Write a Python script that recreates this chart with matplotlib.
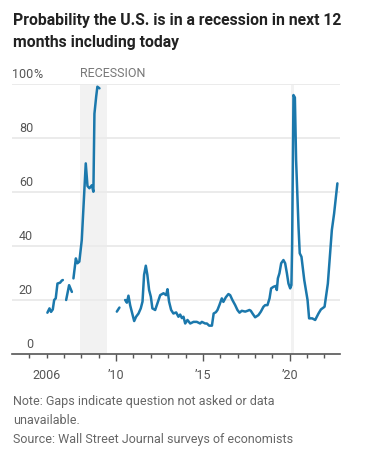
import numpy as np
import matplotlib
matplotlib.use("Agg")
import matplotlib.pyplot as plt

# WSJ survey: probability of recession (%), gaps = NaN
years = [
    2006.04, 2006.16, 2006.25, 2006.35, 2006.43, 2006.52, 2006.62, 2006.77, 2006.87, 2006.93,
    2007.02,
    2007.12, 2007.29, 2007.45,
    2007.50,
    2007.54, 2007.68, 2007.77, 2007.88, 2008.02, 2008.12, 2008.25, 2008.35, 2008.46, 2008.60,
    2008.69, 2008.75, 2008.85, 2008.92, 2009.04,
    2009.50,
    2010.04, 2010.19,
    2010.35,
    2010.52, 2010.62, 2010.71, 2010.81, 2010.90, 2011.04, 2011.15, 2011.29, 2011.42, 2011.52,
    2011.61, 2011.71, 2011.80, 2011.90, 2012.00, 2012.09, 2012.25, 2012.38, 2012.54, 2012.73,
    2012.88, 2012.96, 2013.05, 2013.17, 2013.30, 2013.46, 2013.59, 2013.69, 2013.79, 2013.88,
    2013.98, 2014.11, 2014.27, 2014.46, 2014.65, 2014.84, 2014.94, 2015.13, 2015.23, 2015.36,
    2015.52, 2015.62, 2015.75, 2015.84, 2015.95, 2016.09, 2016.18, 2016.32, 2016.47, 2016.57,
    2016.70, 2016.86, 2016.99, 2017.11, 2017.24, 2017.44, 2017.57, 2017.68, 2017.76, 2017.88,
    2018.01, 2018.20, 2018.34, 2018.49, 2018.59, 2018.72, 2018.84, 2018.93, 2019.07, 2019.20,
    2019.26, 2019.32, 2019.41, 2019.51, 2019.64, 2019.74, 2019.84, 2019.93, 2020.03, 2020.10,
    2020.14, 2020.22, 2020.30, 2020.37, 2020.51, 2020.58, 2020.68, 2020.84, 2021.03, 2021.12,
    2021.30, 2021.47, 2021.66, 2021.80, 2022.01, 2022.20, 2022.33, 2022.43, 2022.56, 2022.75,
]
prob = [
    15.3, 16.9, 15.6, 16.5, 20.0, 20.6, 26.1, 26.4, 27.2, 27.4,
    np.nan,
    20.0, 25.5, 23.0,
    np.nan,
    28.0, 35.4, 33.6, 34.2, 42.2, 54.6, 70.6, 62.2, 61.4, 62.5,
    60.1, 89.0, 95.3, 99.0, 98.4,
    np.nan,
    15.7, 17.2,
    np.nan,
    20.0, 19.0, 21.6, 18.0, 15.7, 12.2, 13.8, 15.0, 16.9, 19.4,
    29.3, 32.7, 29.3, 23.7, 21.2, 16.9, 16.3, 18.8, 21.8, 22.5,
    21.8, 24.0, 19.4, 16.3, 15.0, 15.4, 13.8, 14.6, 13.3, 13.8,
    11.3, 12.6, 11.3, 11.9, 11.9, 11.3, 11.9, 11.3, 11.3, 10.5,
    10.5, 15.0, 15.5, 16.3, 18.1, 20.6, 19.3, 21.0, 22.2, 21.8,
    20.0, 18.1, 16.3, 15.3, 16.0, 15.7, 16.0, 16.3, 16.0, 14.8,
    13.6, 14.4, 15.7, 17.5, 18.1, 18.1, 20.6, 24.3, 24.9, 25.2,
    23.7, 28.0, 29.9, 33.6, 34.8, 33.6, 29.9, 26.1, 24.3, 25.5,
    39.7, 95.9, 95.0, 71.9, 47.0, 37.3, 36.0, 27.4, 20.0, 13.2,
    13.2, 12.6, 15.0, 16.5, 17.5, 26.1, 37.3, 45.9, 52.0, 63.2,
]
recessions = [(2007.92, 2009.46), (2020.08, 2020.27)]
y_ticks = [0, 20, 40, 60, 80, 100]
x_ticks = [2006, 2010, 2015, 2020]
x_labels = ["2006", "\u201910", "\u201915", "\u201920"]

W, H = 371, 469
fig = plt.figure(figsize=(W / 100, H / 100), dpi=100)
plt.rcParams["font.family"] = ["Roboto", "DejaVu Sans"]

ax = fig.add_axes([12 / W, 1 - 354 / H, 328 / W, 270 / H])
ax.set_xlim(2004.0, 2022.9)
ax.set_ylim(0, 100)

for a, b in recessions:
    ax.axvspan(a, b, color="#f2f2f2", lw=0, zorder=0)
for v in y_ticks[1:]:
    ax.axhline(v, color="#ebebeb", lw=1.4, zorder=1)

ax.plot(years, prob, color="#1b78ac", lw=1.8, zorder=3, clip_on=False,
        solid_capstyle="round", solid_joinstyle="round")

for s in ["top", "right", "left"]:
    ax.spines[s].set_visible(False)
ax.spines["bottom"].set_color("#555555")
ax.spines["bottom"].set_linewidth(1.2)
ax.set_yticks([])

ax.set_xticks(x_ticks)
ax.set_xticklabels(x_labels, color="#555555", fontsize=9)
ax.set_xticks(range(2005, 2023), minor=True)
ax.tick_params(axis="x", which="major", length=5, width=1, color="#555555", pad=6)
ax.tick_params(axis="x", which="minor", length=3, width=1, color="#555555")
ax.xaxis.get_major_ticks()[0].tick1line.set_markersize(3)

ytr = ax.get_yaxis_transform()
for v in y_ticks:
    ax.text(21 / 328, v + 1.2, str(v), transform=ytr, ha="right", va="bottom",
            fontsize=9, color="#555555")
ax.text(21 / 328, 101.2, "%", transform=ytr, ha="left", va="bottom",
        fontsize=9, color="#555555")
ax.text(recessions[0][0], 101.5, "RECESSION", ha="left", va="bottom",
        fontsize=9, color="#777777")

fig.text(13 / W, 1 - 21 / H, "Probability the U.S. is in a recession in next 12",
         fontsize=11.3, fontweight="bold", color="#222222", va="center")
fig.text(13 / W, 1 - 43 / H, "months including today",
         fontsize=11.3, fontweight="bold", color="#222222", va="center")

notes = ["Note: Gaps indicate question not asked or data", "unavailable.",
         "Source: Wall Street Journal surveys of economists"]
for i, t in enumerate(notes):
    fig.text(13 / W, 1 - (401 + 19 * i) / H, t, fontsize=9, color="#666666", va="center")

fig.savefig("out.png", dpi=100)
